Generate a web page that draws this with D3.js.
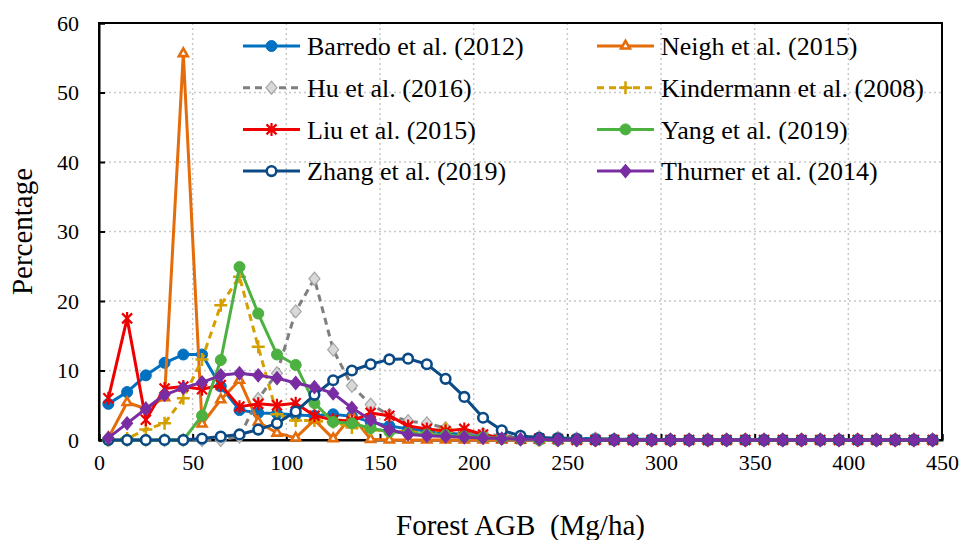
<!DOCTYPE html>
<html>
<head>
<meta charset="utf-8">
<script src="https://cdn.jsdelivr.net/npm/d3@7"></script>
<style>
  html, body { margin: 0; padding: 0; background: #fff; }
  svg { display: block; }
</style>
</head>
<body>
<div id="chart"></div>
<script>
// ---- data ----
const agb = d3.range(5, 450, 10); // bin centres 5..445
const barredo = [5.2,6.9,9.3,11.1,12.3,12.3,7.7,4.3,3.9,3.8,3.6,3.5,3.7,3.4,2.6,2.0,1.6,1.3,1.0,0.8,0.6,0.4,0.3,0.3,0.3,0.2,0.2,0.1,0.1,0.1,0,0,0,0,0,0,0,0,0,0,0,0,0,0,0];
const neigh = [0.3,5.4,4.5,6.1,55.6,2.3,5.8,8.6,2.6,1.0,0.3,2.9,0.2,3.5,0.1,0,0,0,0,0,0,0,0,0,0,0,0,0,0,0,0,0,0,0,0,0,0,0,0,0,0,0,0,0,0];
const hu = [0,0,0,0,0,0,0,0.5,5.9,9.6,18.5,23.2,13.0,7.8,5.1,3.6,2.7,2.4,1.7,1.0,0.9,0.6,0.5,0.4,0.3,0.2,0.2,0.1,0.1,0,0,0,0,0,0,0,0,0,0,0,0,0,0,0,0];
const kindermann = [0,0.2,1.5,2.4,6.0,11.6,19.4,23.5,13.4,3.7,2.8,2.8,2.6,1.8,1.5,1.3,1.2,1.0,1.6,0.5,0.3,0.2,0.1,0,0,0,0,0,0,0,0,0,0,0,0,0,0,0,0,0,0,0,0,0,0];
const liu = [6.0,17.5,2.9,7.4,7.7,7.3,7.9,4.8,5.2,5.0,5.3,3.5,2.9,2.7,3.9,3.5,2.0,1.6,1.3,1.6,0.8,0.3,0.2,0.2,0.1,0,0,0,0,0,0,0,0,0,0,0,0,0,0,0,0,0,0,0,0];
const yang = [0,0,0,0,0,3.5,11.5,24.9,18.2,12.3,10.8,5.3,2.6,2.4,1.7,1.2,1.0,0.8,0.7,0.5,0.4,0.2,0.1,0,0,0,0,0,0,0,0,0,0,0,0,0,0,0,0,0,0,0,0,0,0];
const zhang = [0,0,0,0,0,0.2,0.5,0.8,1.5,2.4,4.1,6.5,8.6,10.0,10.9,11.6,11.7,10.9,8.8,6.2,3.2,1.4,0.6,0.3,0.2,0.1,0,0,0,0,0,0,0,0,0,0,0,0,0,0,0,0,0,0,0];
const thurner = [0.3,2.4,4.5,6.5,7.5,8.3,9.3,9.6,9.3,8.9,8.2,7.6,6.7,4.6,2.9,1.5,0.8,0.6,0.5,0.4,0.3,0.2,0.1,0.1,0,0,0,0,0,0,0,0,0,0,0,0,0,0,0,0,0,0,0,0,0];
const seriesNames = ["Barredo et al. (2012)","Neigh et al. (2015)","Hu et al. (2016)","Kindermann et al. (2008)","Liu et al. (2015)","Yang et al. (2019)","Zhang et al. (2019)","Thurner et al. (2014)"];
const xTicks = [0,50,100,150,200,250,300,350,400,450];
const yTicks = [0,10,20,30,40,50,60];

const FONT = "'Liberation Serif', 'Times New Roman', 'DejaVu Serif', serif";

// ---- styles ----
const styles = [
  {color:"#0070C0", dash:null, sym:"circle", fill:"#0070C0"},
  {color:"#E46C0A", dash:null, sym:"triangle", fill:"#FFFFFF"},
  {color:"#7F7F7F", dash:"7,5", sym:"diamond", fill:"#D9D9D9", mstroke:"#A6A6A6"},
  {color:"#D4A000", dash:"7,5", sym:"plus", fill:"none"},
  {color:"#EE0000", dash:null, sym:"asterisk", fill:"none"},
  {color:"#4CB140", dash:null, sym:"circle", fill:"#4CB140"},
  {color:"#0B4A85", dash:null, sym:"ocircle", fill:"#FFFFFF"},
  {color:"#7A2DA3", dash:null, sym:"diamond", fill:"#7A2DA3"}
];
const allValues = [barredo, neigh, hu, kindermann, liu, yang, zhang, thurner];

const W = 964, H = 540;
const m = {left: 99, right: 22, top: 23, bottom: 100};
const svg = d3.select("#chart").append("svg").attr("width", W).attr("height", H);

const x = d3.scaleLinear().domain([0, 450]).range([m.left, W - m.right]);
const y = d3.scaleLinear().domain([0, 60]).range([H - m.bottom, m.top]);

// gridlines
const grid = svg.append("g");
grid.selectAll("line.v").data(xTicks.filter(d => d > 0 && d < 450)).enter().append("line")
  .attr("x1", d => x(d)).attr("x2", d => x(d)).attr("y1", y(0)).attr("y2", y(60))
  .attr("stroke", "#C8C8C8").attr("stroke-width", 1.5).attr("stroke-dasharray", "2,3");
grid.selectAll("line.h").data(yTicks.filter(d => d > 0 && d < 60)).enter().append("line")
  .attr("x1", x(0)).attr("x2", x(450)).attr("y1", d => y(d)).attr("y2", d => y(d))
  .attr("stroke", "#C8C8C8").attr("stroke-width", 1.5).attr("stroke-dasharray", "2,3");

// frame
svg.append("rect").attr("x", x(0)).attr("y", y(60)).attr("width", x(450) - x(0)).attr("height", y(0) - y(60))
  .attr("fill", "none").attr("stroke", "#000").attr("stroke-width", 2);

// axes (inward ticks)
const xAxis = svg.append("g").attr("transform", `translate(0,${y(0)})`)
  .call(d3.axisBottom(x).tickValues(xTicks).tickSize(-6).tickPadding(14).tickFormat(d3.format("d")));
const yAxis = svg.append("g").attr("transform", `translate(${x(0)},0)`)
  .call(d3.axisLeft(y).tickValues(yTicks).tickSize(-6).tickPadding(20).tickFormat(d3.format("d")));
[xAxis, yAxis].forEach(a => {
  a.attr("font-family", null).attr("font-size", null);
  a.select(".domain").attr("stroke", "#000").attr("stroke-width", 2);
  a.selectAll(".tick line").attr("stroke", "#000").attr("stroke-width", 2);
  a.selectAll(".tick text").style("font-size", "22px").style("font-family", FONT).attr("fill", "#000");
});

// axis titles
svg.append("text").attr("x", (x(0) + x(450)) / 2).attr("y", 535).attr("text-anchor", "middle")
  .style("font-size", "29px").style("font-family", FONT).style("white-space", "pre")
  .text("Forest AGB  (Mg/ha)");
svg.append("text").attr("transform", `translate(32,${(y(0) + y(60)) / 2}) rotate(-90)`)
  .attr("text-anchor", "middle").style("font-size", "29px").style("font-family", FONT).text("Percentage");

// markers
function drawMarker(g, st, cx, cy) {
  const t = `translate(${cx},${cy})`;
  if (st.sym === "circle") {
    g.append("circle").attr("cx", cx).attr("cy", cy).attr("r", 5.5).attr("fill", st.fill).attr("stroke", st.color).attr("stroke-width", 1);
  } else if (st.sym === "ocircle") {
    g.append("circle").attr("cx", cx).attr("cy", cy).attr("r", 4.8).attr("fill", st.fill).attr("stroke", st.color).attr("stroke-width", 2.6);
  } else if (st.sym === "triangle") {
    g.append("path").attr("transform", t).attr("d", d3.symbol(d3.symbolTriangle, 34)())
      .attr("fill", st.fill).attr("stroke", st.color).attr("stroke-width", 2.6);
  } else if (st.sym === "diamond") {
    g.append("path").attr("transform", t).attr("d", "M0,-6.5L5.5,0L0,6.5L-5.5,0Z")
      .attr("fill", st.fill).attr("stroke", st.mstroke || st.color).attr("stroke-width", 1.2);
  } else if (st.sym === "plus") {
    g.append("path").attr("transform", t).attr("d", "M-6.5,0H6.5M0,-6.5V6.5")
      .attr("fill", "none").attr("stroke", st.color).attr("stroke-width", 2.5);
  } else if (st.sym === "asterisk") {
    g.append("path").attr("transform", t).attr("d", "M-5,-5L5,5M-5,5L5,-5M0,-6.5V6.5")
      .attr("fill", "none").attr("stroke", st.color).attr("stroke-width", 2.2);
  }
}

const line = d3.line().x(d => x(d[0])).y(d => y(d[1]));
allValues.forEach((vals, i) => {
  const st = styles[i];
  const pts = agb.map((a, j) => [a, vals[j]]);
  const g = svg.append("g");
  g.append("path").attr("d", line(pts)).attr("fill", "none").attr("stroke", st.color)
    .attr("stroke-width", 3).attr("stroke-linejoin", "round")
    .attr("stroke-dasharray", st.dash);
  pts.forEach(p => drawMarker(g, st, x(p[0]), y(p[1])));
});

// legend
const leg = svg.append("g");
seriesNames.forEach((name, i) => {
  const st = styles[i];
  const col = i % 2, row = Math.floor(i / 2);
  const lx = col === 0 ? 243 : 597;
  const ly = 46 + row * 41.7;
  const g = leg.append("g");
  g.append("line").attr("x1", lx).attr("x2", lx + 57).attr("y1", ly).attr("y2", ly)
    .attr("stroke", st.color).attr("stroke-width", 3).attr("stroke-dasharray", st.dash);
  drawMarker(g, st, lx + 28.5, ly);
  g.append("text").attr("x", lx + 64).attr("y", ly).attr("dy", "0.35em")
    .style("font-size", "26px").style("font-family", FONT).attr("fill", "#000").text(name);
});
</script>
</body>
</html>
